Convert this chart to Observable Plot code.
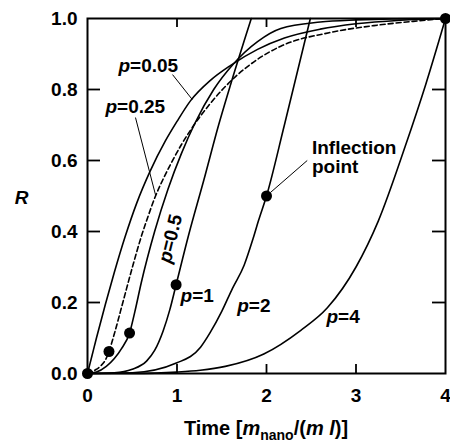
<!DOCTYPE html>
<html><head><meta charset="utf-8">
<script src="https://cdn.jsdelivr.net/npm/d3@7"></script>
<script src="https://cdn.jsdelivr.net/npm/@observablehq/plot@0.6"></script>
<style>body{margin:0;background:#fff}</style>
</head><body><div id="chart"></div>
<script>
// ---- data ----
const tP005 = [0, 0.05, 0.1, 0.2, 0.3, 0.42, 0.55, 0.7, 0.87, 1.0, 1.15, 1.37, 1.6, 1.9, 2.2, 2.6, 3.0, 3.5, 4.0];
const rP005 = [0, 0.05, 0.1, 0.195, 0.285, 0.385, 0.48, 0.57, 0.655, 0.71, 0.768, 0.825, 0.868, 0.913, 0.945, 0.97, 0.985, 0.995, 1.0];

const tP025 = [0, 0.1, 0.15, 0.2, 0.24, 0.3, 0.4, 0.5, 0.6, 0.68, 0.76, 0.85, 0.93, 1.05, 1.15, 1.37, 1.67, 1.9, 2.16, 2.7, 3.2, 3.64, 4.0];
const rP025 = [0, 0.012, 0.022, 0.038, 0.062, 0.112, 0.205, 0.298, 0.385, 0.445, 0.5, 0.55, 0.59, 0.645, 0.685, 0.76, 0.84, 0.885, 0.922, 0.96, 0.98, 0.992, 1.0];

const tP05 = [0, 0.1, 0.21, 0.3, 0.38, 0.47, 0.53, 0.6, 0.75, 0.9, 1.05, 1.2, 1.41, 1.63, 1.9, 2.16, 2.6, 3.0, 3.4, 4.0];
const rP05 = [0, 0.004, 0.02, 0.042, 0.07, 0.114, 0.175, 0.255, 0.40, 0.52, 0.62, 0.705, 0.80, 0.872, 0.935, 0.972, 0.99, 0.996, 0.999, 1.0];

const tP1 = [0, 0.3, 0.5, 0.66, 0.75, 0.845, 0.92, 0.99, 1.13, 1.3, 1.465, 1.6, 1.83];
const rP1 = [0, 0.002, 0.012, 0.035, 0.065, 0.12, 0.18, 0.25, 0.39, 0.545, 0.70, 0.815, 1.0];

const tP2 = [0, 0.5, 1.0, 1.263, 1.37, 1.5, 1.62, 1.75, 1.85, 1.91, 2.0, 2.2, 2.49];
const rP2 = [0, 0.002, 0.03, 0.074, 0.115, 0.175, 0.24, 0.305, 0.38, 0.43, 0.5, 0.7, 1.0];

const tP4 = [0, 0.5, 1.0, 1.26, 1.54, 1.97, 2.38, 2.68, 3.0, 3.25, 3.55, 3.78, 4.0];
const rP4 = [0, 0.0003, 0.004, 0.009, 0.02, 0.055, 0.121, 0.185, 0.30, 0.43, 0.64, 0.815, 1.0];

// inflection points
const dotT = [0, 0.24, 0.47, 0.99, 2.0, 4.0];
const dotR = [0, 0.062, 0.114, 0.25, 0.5, 1.0];

// tick values
const xTickLabels = [0, 1, 2, 3, 4];
const yTickLabels = [0, 0.2, 0.4, 0.6, 0.8, 1.0];
const xInnerTicks = [1, 2, 3];
const yInnerTicks = [0.2, 0.4, 0.6, 0.8];

// annotation texts and their anchor positions (data units)
const labelText = ["p=0.05", "p=0.25", "p=1", "p=2", "p=4"];
const labelT    = [0.346, 0.201, 1.04, 1.673, 2.67];
const labelR    = [0.866, 0.751, 0.218, 0.189, 0.159];

const rotText = ["p=0.5"];
const rotT = [0.927];
const rotR = [0.38];

const leaderT1 = [0.95, 0.536, 2.455];
const leaderR1 = [0.842, 0.721, 0.60];
const leaderT2 = [1.17, 0.76, 2.045];
const leaderR2 = [0.772, 0.503, 0.51];

const noteText = ["Inflection\npoint"];
const noteT = [2.508];
const noteR = [0.656];

const yTitle = ["R"];
const yTitleR = [0.496];

// ---- build tables ----
const series = (p, ts, rs) => ts.map((t, i) => ({p, t, r: rs[i]}));
const solid = [
  ...series(0.05, tP005, rP005),
  ...series(0.5, tP05, rP05),
  ...series(1, tP1, rP1),
  ...series(2, tP2, rP2),
  ...series(4, tP4, rP4)
];
const dashed = series(0.25, tP025, rP025);
const dots = dotT.map((t, i) => ({t, r: dotR[i]}));
const labels = labelText.map((s, i) => ({s, t: labelT[i], r: labelR[i]}));
const rotLabels = rotText.map((s, i) => ({s, t: rotT[i], r: rotR[i]}));
const leaders = leaderT1.map((t, i) => ({t1: t, r1: leaderR1[i], t2: leaderT2[i], r2: leaderR2[i]}));
const notes = noteText.map((s, i) => ({s, t: noteT[i], r: noteR[i]}));

const W = 450, H = 442, ML = 87, MR = 5, MT = 18, MB = 69;
const FW = W - ML - MR, FH = H - MT - MB;
const font = "'Liberation Sans', Arial, Helvetica, sans-serif";

const plot = Plot.plot({
  width: W, height: H,
  marginLeft: ML, marginRight: MR, marginTop: MT, marginBottom: MB,
  x: {domain: [0, 4]},
  y: {domain: [0, 1]},
  style: {fontFamily: font, fontSize: "19px", fontWeight: "bold", color: "#000", background: "#fff", overflow: "visible"},
  marks: [
    Plot.axisX(xTickLabels, {tickSize: 0, tickPadding: 15, label: null, tickFormat: d3.format("d")}),
    Plot.axisY(yTickLabels, {tickSize: 0, tickPadding: 10, label: null, tickFormat: d3.format(".1f")}),
    Plot.tickX(xInnerTicks, {x: d => d, insetTop: FH - 9, stroke: "#000", strokeWidth: 1.8}),
    Plot.tickX(xInnerTicks, {x: d => d, insetBottom: FH - 9, stroke: "#000", strokeWidth: 1.8}),
    Plot.tickY(yInnerTicks, {y: d => d, insetRight: FW - 13, stroke: "#000", strokeWidth: 1.8}),
    Plot.tickY(yInnerTicks, {y: d => d, insetLeft: FW - 13, stroke: "#000", strokeWidth: 1.8}),
    Plot.line(solid, {x: "t", y: "r", z: "p", stroke: "#000", strokeWidth: 1.6, curve: "monotone-x"}),
    Plot.line(dashed, {x: "t", y: "r", stroke: "#000", strokeWidth: 1.6, strokeDasharray: "5,3", curve: "monotone-x"}),
    Plot.link(leaders, {x1: "t1", y1: "r1", x2: "t2", y2: "r2", stroke: "#000", strokeWidth: 1}),
    Plot.frame({stroke: "#000", strokeWidth: 2}),
    Plot.dot(dots, {x: "t", y: "r", r: 5.5, fill: "#000", stroke: "none"}),
    Plot.text(labels, {x: "t", y: "r", text: "s", textAnchor: "start", lineAnchor: "middle", fill: "#000"}),
    Plot.text(rotLabels, {x: "t", y: "r", text: "s", textAnchor: "middle", lineAnchor: "middle", rotate: -76, fill: "#000"}),
    Plot.text(notes, {x: "t", y: "r", text: "s", textAnchor: "start", lineAnchor: "top", lineHeight: 1.0, fill: "#000"}),
    Plot.text(yTitle, {frameAnchor: "left", y: (d, i) => yTitleR[i], text: d => d, dx: -66, textAnchor: "middle", lineAnchor: "middle", fontStyle: "italic", fill: "#000"})
  ]
});

document.getElementById("chart").appendChild(plot);

// italic "p" in curve labels
const NS = "http://www.w3.org/2000/svg";
plot.querySelectorAll("text").forEach(el => {
  if (el.children.length === 0 && el.textContent.startsWith("p=")) {
    const rest = el.textContent.slice(1);
    el.textContent = "";
    const a = document.createElementNS(NS, "tspan");
    a.setAttribute("font-style", "italic");
    a.textContent = "p";
    const b = document.createElementNS(NS, "tspan");
    b.textContent = rest;
    el.appendChild(a); el.appendChild(b);
  }
});

// x-axis title with subscript, centred under the frame
const xs = plot.scale("x");
const cx = (xs.range[0] + xs.range[1]) / 2;
const svg = d3.select(plot);
const title = svg.append("text")
  .attr("x", 0).attr("y", H - 7)
  .attr("text-anchor", "start")
  .attr("fill", "#000")
  .attr("font-family", font).attr("font-size", 20).attr("font-weight", "bold");
title.append("tspan").text("Time [");
title.append("tspan").attr("font-style", "italic").text("m");
title.append("tspan").attr("font-size", 14).attr("dy", 5).text("nano");
title.append("tspan").attr("dy", -5).text("/(");
title.append("tspan").attr("font-style", "italic").text("m l");
title.append("tspan").text(")]");
const bb = title.node().getBBox();
title.attr("x", cx - bb.width / 2 - bb.x);
</script>
</body></html>
